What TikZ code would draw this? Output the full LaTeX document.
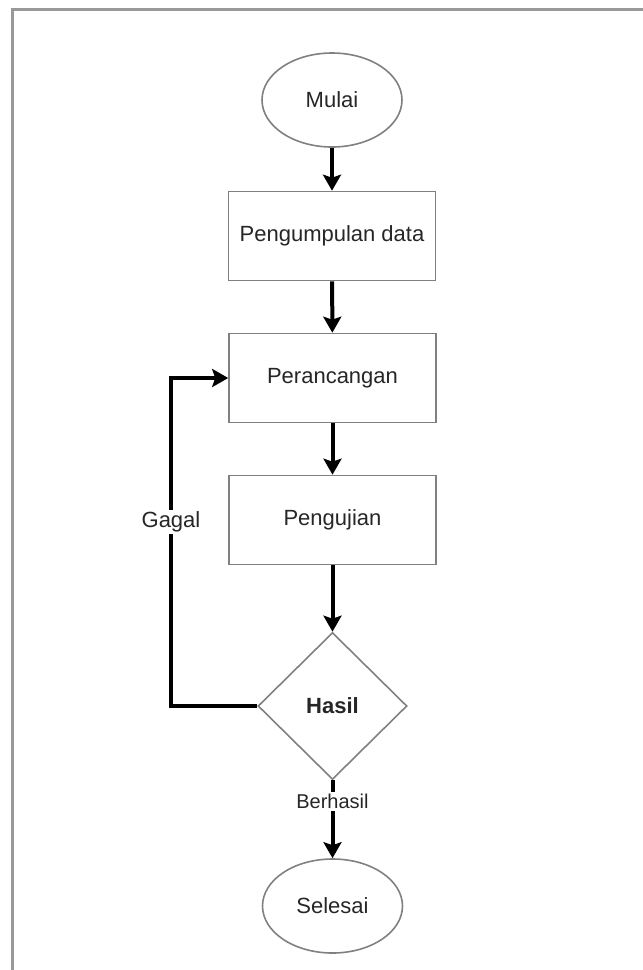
\documentclass[tikz,border=0pt]{standalone}
\usepackage{fontspec}
\setmainfont{Liberation Sans}
\usetikzlibrary{shapes.geometric,arrows.meta,positioning}

\begin{document}
\begin{tikzpicture}[x=1pt, y=-1pt,
  every node/.style={font=\fontsize{22}{26}\selectfont, text=black!85},
  terminal/.style={draw=black!50, line width=1.6pt, ellipse, minimum width=140pt, minimum height=94pt, inner sep=0pt},
  process/.style={draw=black!50, line width=1.6pt, rectangle, minimum width=207pt, minimum height=89pt},
  decision/.style={draw=black!50, line width=1.6pt, diamond, minimum width=149pt, minimum height=147pt, inner sep=0pt},
  flow/.style={line width=4pt, black, -{Stealth[length=16pt, width=18pt, inset=3pt]}},
  flowlabel/.style={fill=white, inner sep=2pt}]
\useasboundingbox (0,0) rectangle (643,970);
% Page frame
\draw[black!40, line width=3pt] (12,970) -- (12,9) -- (643,9);

% Flow nodes
\node[terminal] (mulai) at (332,100) {Mulai};
\node[process] (kumpul) at (332,236) {Pengumpulan data};
\node[process] (rancang) at (332.5,378) {Perancangan};
\node[process] (uji) at (332.5,520) {Pengujian};
\node[decision] (hasil) at (332.5,706) {\bfseries Hasil};
\node[terminal] (selesai) at (332.5,906) {Selesai};

% Connectors
\draw[flow] (mulai) -- (kumpul);
\draw[flow] (kumpul) -- (rancang);
\draw[flow] (rancang) -- (uji);
\draw[flow] (uji) -- (hasil);
\draw[flow] (hasil) -- (selesai)
  node[flowlabel, pos=0.27, font=\fontsize{20}{24}\selectfont] (berhasil) {Berhasil};

% Loop back on failure
\coordinate (balik) at (171,706);
\draw[flow] (hasil.west) -- (balik) |- (rancang.west);
\node[flowlabel] (gagal) at (171,522) {Gagal};
\end{tikzpicture}
\end{document}
